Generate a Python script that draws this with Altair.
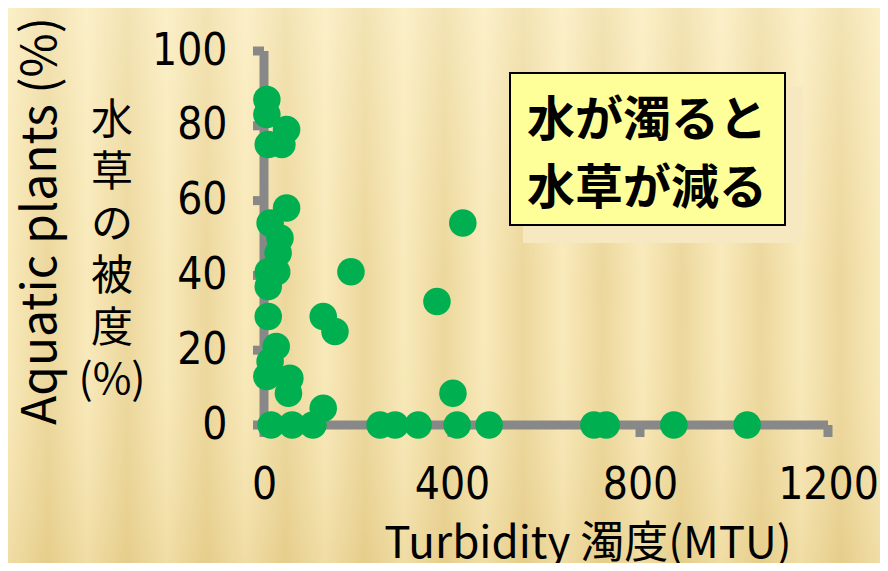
import altair as alt
import pandas as pd

# --- data ---
turbidity = [6, 6, 48, 9, 38, 48, 13, 34, 30, 9, 27, 9, 9, 126, 151, 185, 26, 13, 6, 55, 52, 126,
             15, 60, 104, 247, 279, 328, 411, 479, 702, 728, 872, 1028, 402, 423, 368]
coverage = [87, 83, 79, 75, 75, 58, 54, 50, 46, 41, 41, 37, 29, 29, 25, 41, 21, 17, 13, 12.5, 8.5, 4.5,
            0, 0, 0, 0, 0, 0, 0, 0, 0, 0, 0, 0, 8.5, 54, 33]
x_ticks = [0, 400, 800, 1200]
y_ticks = [0, 20, 40, 60, 80, 100]
x_title = "Turbidity 濁度(MTU)"
y_title_en = "Aquatic plants (%)"
y_title_jp = ["水", "草", "の", "被", "度", "(%)"]
note_lines = ["水が濁ると", "水草が減る"]

W, H = 564, 374
PL, PT, PR, PB = 256, 43, 52, 138

df = pd.DataFrame({"turbidity": turbidity, "coverage": coverage})
one = pd.DataFrame({"a": [0]})

JP = "Noto Sans CJK JP"
NUM = "Liberation Sans Narrow, DejaVu Sans Condensed, sans-serif"
AXIS_GRAY = "#888888"

xscale = alt.Scale(domain=[0, 1200], nice=False)
yscale = alt.Scale(domain=[0, 100], nice=False)

# background stripes (decorative)
light, dark = "#f9eabb", "#ecd79c"
stops = [alt.GradientStop(offset=i / 22, color=(light if i % 2 == 0 else dark)) for i in range(23)]
bg = alt.Chart(one).mark_rect(
    fill=alt.LinearGradient(gradient="linear", stops=stops, x1=0, x2=1, y1=0, y2=0)
).encode(x=alt.value(-PL), x2=alt.value(W + PR), y=alt.value(-PT), y2=alt.value(H + PB))

bg2 = alt.Chart(one).mark_rect(
    fill=alt.LinearGradient(gradient="linear", stops=[
        alt.GradientStop(offset=0, color="rgba(255,250,225,0.35)"),
        alt.GradientStop(offset=0.5, color="rgba(255,245,210,0)"),
        alt.GradientStop(offset=1, color="rgba(200,160,60,0.18)"),
    ], x1=0, x2=0, y1=0, y2=1)
).encode(x=alt.value(-PL), x2=alt.value(W + PR), y=alt.value(-PT), y2=alt.value(H + PB))

shadow = alt.Chart(one).mark_rect(fill="#f6e9c2").encode(
    x=alt.value(259), x2=alt.value(539), y=alt.value(36), y2=alt.value(192))
box = alt.Chart(one).mark_rect(fill="#ffff99", stroke="black", strokeWidth=2).encode(
    x=alt.value(246), x2=alt.value(521), y=alt.value(22), y2=alt.value(174))
note = alt.Chart(one).mark_text(
    font=JP, fontSize=48, fontWeight="bold", color="black", align="center",
    baseline="middle", lineHeight=68
).encode(x=alt.value(383), y=alt.value(71), text=alt.value(note_lines))

jp_title = alt.Chart(one).mark_text(
    font=JP, fontSize=42, color="black", align="center", baseline="middle", lineHeight=52
).encode(x=alt.value(-152), y=alt.value(70), text=alt.value(y_title_jp))

en_title = alt.Chart(one).mark_text(
    font=JP, fontSize=48, color="black", align="center", baseline="middle", angle=270
).encode(x=alt.value(-222), y=alt.value(170), text=alt.value(y_title_en))

xt = alt.Chart(one).mark_text(
    font=JP, fontSize=44, color="black", align="center", baseline="middle"
).encode(x=alt.value(324), y=alt.value(494), text=alt.value(x_title))

# axis lines & ticks as rules so that the points sit on top
xdom = alt.Chart(one).mark_rule(color=AXIS_GRAY, strokeWidth=9).encode(
    x=alt.XDatum(0, scale=xscale, title=None), x2=alt.X2Datum(1200),
    y=alt.YDatum(0, scale=yscale, title=None))
ydom = alt.Chart(one).mark_rule(color=AXIS_GRAY, strokeWidth=9).encode(
    x=alt.XDatum(0, scale=xscale, title=None),
    y=alt.YDatum(0, scale=yscale, title=None), y2=alt.Y2Datum(100))
xtk = alt.Chart(pd.DataFrame({"v": x_ticks})).mark_rule(color=AXIS_GRAY, strokeWidth=9).encode(
    x=alt.X("v:Q", scale=xscale, title=None), y=alt.value(H), y2=alt.value(H + 12))
ytk = alt.Chart(pd.DataFrame({"v": y_ticks})).mark_rule(color=AXIS_GRAY, strokeWidth=9).encode(
    y=alt.Y("v:Q", scale=yscale, title=None), x=alt.value(0), x2=alt.value(-11))

points = alt.Chart(df).mark_circle(size=760, color="#00b050", opacity=1).encode(
    x=alt.X("turbidity:Q", scale=xscale, title=None,
            axis=alt.Axis(values=x_ticks, format="d", domain=False, ticks=False, tickSize=0, grid=False,
                          labelFont=NUM, labelFontSize=44, labelColor="black", labelPadding=38,
                          labelFlush=False, labelOverlap=False, zindex=1)),
    y=alt.Y("coverage:Q", scale=yscale, title=None,
            axis=alt.Axis(values=y_ticks, format="d", domain=False, ticks=False, tickSize=0, grid=False,
                          labelFont=NUM, labelFontSize=44, labelColor="black", labelPadding=37,
                          labelOverlap=False, zindex=1)),
)

chart = alt.layer(bg, bg2, shadow, box, note, jp_title, en_title, xt,
                  xdom, ydom, xtk, ytk, points).properties(
    width=W, height=H, autosize="none",
    padding={"left": PL, "top": PT, "right": PR, "bottom": PB},
    background="#f2e0aa",
).configure_view(stroke=None)

chart.save("out.html", embed_options={"renderer": "svg", "actions": False})
